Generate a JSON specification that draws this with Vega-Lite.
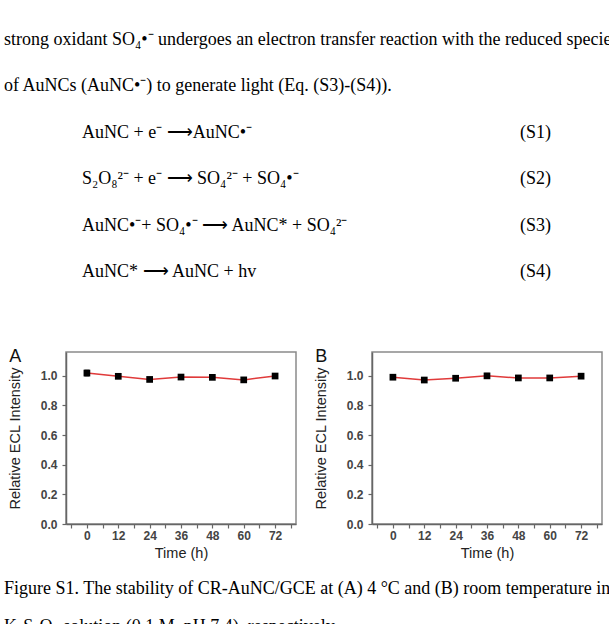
{
  "$schema": "https://vega.github.io/schema/vega-lite/v6.json",
  "padding": {"left": 4, "top": 0, "right": 0, "bottom": 0},
  "background": "white",
  "spacing": 10,
  "config": {
    "view": {"stroke": "#8a8a8a", "strokeWidth": 1.5},
    "axis": {"grid": false, "domainColor": "#666666", "domainWidth": 1.5, "tickColor": "#666666", "tickWidth": 1.2, "tickSize": 4,
      "labelFont": "Liberation Sans", "labelFontWeight": "bold", "labelFontSize": 12, "labelColor": "#444444",
      "titleFont": "Liberation Sans", "titleFontWeight": "normal", "titleFontSize": 14.5, "titleColor": "#222222"},
    "title": {"font": "Liberation Sans", "fontSize": 18, "fontWeight": "normal", "color": "#111111", "anchor": "start", "frame": "bounds", "baseline": "alphabetic", "offset": -14, "dx": 2}
  },
  "vconcat": [
    {
      "width": 543, "height": 337,
      "view": {"stroke": null},
      "data": {"values": [
        {"line": 1, "col": 0, "text": "strong oxidant SO₄•⁻ undergoes an electron transfer reaction with the reduced species"},
        {"line": 2, "col": 0, "text": "of AuNCs (AuNC•⁻) to generate light (Eq. (S3)-(S4))."},
        {"line": 3, "col": 1, "text": "AuNC + e⁻ ⟶AuNC•⁻"},
        {"line": 3, "col": 2, "text": "(S1)"},
        {"line": 4, "col": 1, "text": "S₂O₈²⁻ + e⁻ ⟶ SO₄²⁻ + SO₄•⁻"},
        {"line": 4, "col": 2, "text": "(S2)"},
        {"line": 5, "col": 1, "text": "AuNC•⁻+ SO₄•⁻ ⟶ AuNC* + SO₄²⁻"},
        {"line": 5, "col": 2, "text": "(S3)"},
        {"line": 6, "col": 1, "text": "AuNC* ⟶ AuNC + hv"},
        {"line": 6, "col": 2, "text": "(S4)"}
      ]},
      "mark": {"type": "text", "align": "left", "baseline": "alphabetic", "font": "Liberation Serif", "fontSize": 18, "color": "#000000"},
      "encoding": {
        "x": {"field": "col", "type": "quantitative", "scale": {"domain": [0, 1, 2], "range": [-62, 16, 454]}, "axis": null},
        "y": {"field": "line", "type": "quantitative", "scale": {"domain": [0.0364, 7.2792], "reverse": true, "nice": false, "zero": false}, "axis": null},
        "text": {"field": "text"}
      }
    },
    {
      "hconcat": [
        {
          "width": 230, "height": 172,
          "title": {"text": "A"},
          "data": {"values": [
            {"time": 0, "value": 1.018, "err": 0.02},
            {"time": 12, "value": 0.996, "err": 0.015},
            {"time": 24, "value": 0.975, "err": 0.008},
            {"time": 36, "value": 0.991, "err": 0.015},
            {"time": 48, "value": 0.989, "err": 0.008},
            {"time": 60, "value": 0.972, "err": 0.008},
            {"time": 72, "value": 0.998, "err": 0.012}
          ]},
          "encoding": {
            "x": {"field": "time", "type": "quantitative", "scale": {"domain": [-8, 80], "nice": false, "zero": false},
              "axis": {"title": "Time (h)", "values": [-6, 0, 6, 12, 18, 24, 30, 36, 42, 48, 54, 60, 66, 72, 78], "labelExpr": "datum.value % 12 === 0 ? datum.label : ''", "labelPadding": 2, "titlePadding": 5, "labelFlush": false}},
            "y": {"field": "value", "type": "quantitative", "scale": {"domain": [0, 1.16], "nice": false},
              "axis": {"title": "Relative ECL Intensity", "values": [0, 0.2, 0.4, 0.6, 0.8, 1.0], "format": ".1f", "labelPadding": 5, "titlePadding": 18, "labelFlush": false}}
          },
          "layer": [
            {"mark": {"type": "line", "color": "#e03a3a", "strokeWidth": 1.5}},
            {"mark": {"type": "errorbar", "ticks": {"size": 5, "color": "#000000"}, "rule": {"color": "#000000", "strokeWidth": 1.5}}, "encoding": {"yError": {"field": "err"}}},
            {"mark": {"type": "square", "color": "#000000", "filled": true, "opacity": 1, "size": 45}}
          ]
        },
        {
          "width": 230, "height": 172,
          "title": {"text": "B"},
          "data": {"values": [
            {"time": 0, "value": 0.99, "err": 0.008},
            {"time": 12, "value": 0.971, "err": 0.015},
            {"time": 24, "value": 0.983, "err": 0.008},
            {"time": 36, "value": 0.999, "err": 0.017},
            {"time": 48, "value": 0.985, "err": 0.017},
            {"time": 60, "value": 0.985, "err": 0.012},
            {"time": 72, "value": 0.997, "err": 0.008}
          ]},
          "encoding": {
            "x": {"field": "time", "type": "quantitative", "scale": {"domain": [-8, 80], "nice": false, "zero": false},
              "axis": {"title": "Time (h)", "values": [-6, 0, 6, 12, 18, 24, 30, 36, 42, 48, 54, 60, 66, 72, 78], "labelExpr": "datum.value % 12 === 0 ? datum.label : ''", "labelPadding": 2, "titlePadding": 5, "labelFlush": false}},
            "y": {"field": "value", "type": "quantitative", "scale": {"domain": [0, 1.16], "nice": false},
              "axis": {"title": "Relative ECL Intensity", "values": [0, 0.2, 0.4, 0.6, 0.8, 1.0], "format": ".1f", "labelPadding": 5, "titlePadding": 18, "labelFlush": false}}
          },
          "layer": [
            {"mark": {"type": "line", "color": "#e03a3a", "strokeWidth": 1.5}},
            {"mark": {"type": "errorbar", "ticks": {"size": 5, "color": "#000000"}, "rule": {"color": "#000000", "strokeWidth": 1.5}}, "encoding": {"yError": {"field": "err"}}},
            {"mark": {"type": "square", "color": "#000000", "filled": true, "opacity": 1, "size": 45}}
          ]
        }
      ],
      "spacing": 15
    },
    {
      "width": 543, "height": 56,
      "view": {"stroke": null},
      "data": {"values": [
        {"line": 1, "col": 0, "text": "Figure S1. The stability of CR-AuNC/GCE at (A) 4 °C and (B) room temperature in"},
        {"line": 2, "col": 0, "text": "K₂S₂O₈ solution (0.1 M, pH 7.4), respectively."}
      ]},
      "mark": {"type": "text", "align": "left", "baseline": "alphabetic", "font": "Liberation Serif", "fontSize": 18, "color": "#000000"},
      "encoding": {
        "x": {"field": "col", "type": "quantitative", "scale": {"domain": [0, 1, 2], "range": [-62, 16, 454]}, "axis": null},
        "y": {"field": "line", "type": "quantitative", "scale": {"domain": [0.3947, 1.8684], "reverse": true, "nice": false, "zero": false}, "axis": null},
        "text": {"field": "text"}
      }
    }
  ]
}
